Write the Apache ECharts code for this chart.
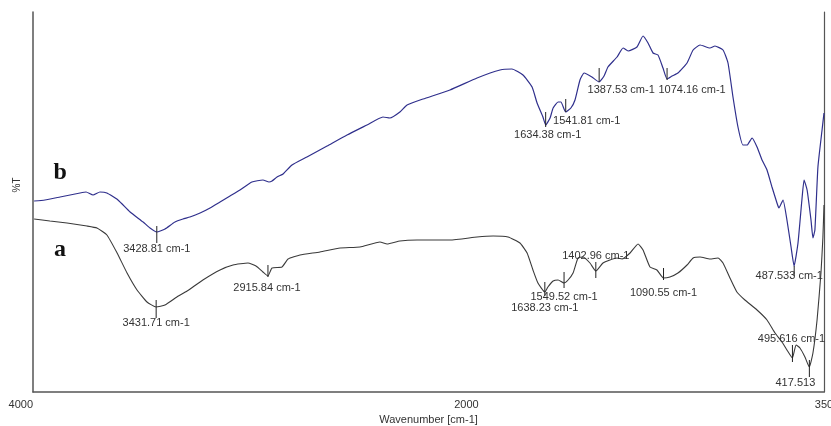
<!DOCTYPE html>
<html>
<head>
<meta charset="utf-8">
<script src="https://cdn.jsdelivr.net/npm/echarts@6/dist/echarts.min.js"></script>
<style>
html,body{margin:0;padding:0;background:#fff;}
#chart{width:831px;height:426px;}
</style>
</head>
<body>
<div id="chart"></div>
<script>
// Wavenumber axis ticks
const xTickLabels = [4000, 2000, 350];

// Spectrum b (blue) : wavenumber [cm-1] and transmittance (arbitrary units)
const waveB = [3995,3945,3875,3783,3755,3723,3691,3659,3608,3552,3492,3460,3429,3391,3345,3308,3276,3229,3183,3137,3091,3045,2990,2939,2911,2897,2874,2846,2805,2736,2643,2551,2459,2385,2353,2307,2274,2200,2076,1951,1845,1790,1739,1697,1674,1647,1634,1614,1600,1577,1564,1542,1518,1499,1476,1457,1421,1388,1365,1347,1305,1277,1254,1213,1185,1162,1139,1116,1093,1074,1051,1024,982,954,922,876,853,816,793,770,747,724,705,682,659,636,613,590,567,558,539,521,502,488,470,452,442,428,410,401,392,378,359,350];
const transB = [191,192,195,199,200,197,200,199,192,180,170,164,160,163,170,173,175,179,184,190,196,202,210,212,210,211,215,218,227,235,246,257,267,275,274,280,287,293,302,314,322,323,317,305,289,275,267,274,284,290,290,280,284,292,312,319,315,310,316,325,335,344,341,345,356,349,339,337,324,313,316,319,329,342,347,344,346,342,329,295,265,247,247,254,245,232,222,205,189,184,192,172,145,126,149,192,212,202,172,154,162,225,262,279];

// Spectrum a (dark grey)
const waveA = [3995,3922,3843,3751,3705,3659,3612,3566,3520,3474,3432,3391,3336,3289,3216,3137,3077,3008,2971,2939,2916,2897,2851,2823,2768,2676,2583,2491,2399,2366,2307,2228,2076,1951,1877,1808,1753,1720,1693,1670,1638,1624,1600,1577,1550,1531,1508,1485,1462,1430,1403,1370,1338,1305,1282,1245,1208,1185,1153,1121,1091,1061,1024,982,954,922,876,839,816,784,752,715,659,613,576,544,521,496,479,461,438,418,401,382,364,355,350];
const transA = [173,171,169,166,164,157,139,119,102,90,85,87,95,101,112,122,127,129,126,120,116,124,125,133,137,140,144,145,150,148,151,152,152,155,156,155,149,139,122,109,100,105,111,112,109,112,119,134,135,129,121,129,132,134,133,139,148,142,125,122,114,115,119,127,134,135,133,134,129,114,100,92,82,72,59,50,42,34,47,44,35,25,39,72,119,155,187];

// Peak annotations
const peaksB = [3428.81, 1634.38, 1541.81, 1387.53, 1074.16, 487.533];
const peakValB = [160, 267, 280, 310, 313, 126];
const peakTextB = ['3428.81 cm-1','1634.38 cm-1','1541.81 cm-1','1387.53 cm-1','1074.16 cm-1','487.533 cm-1'];

const peaksA = [3431.71, 2915.84, 1638.23, 1549.52, 1402.96, 1090.55, 495.616, 417.513];
const peakValA = [85, 116, 100, 109, 121, 114, 34, 25];
const peakTextA = ['3431.71 cm-1','2915.84 cm-1','1638.23 cm-1','1549.52 cm-1','1402.96 cm-1','1090.55 cm-1','495.616 cm-1','417.513'];

// Curve tags
const tagNames = ['b', 'a'];
const tagWave = [3875, 3875];
const tagVal = [219, 142];

// ---- styling (pixel offsets for tick marks and labels) ----
const tickB = [[-6,11],[-13,2],[-13,0],[-14,0],[-11,1],[0,10]];
const labOffB = [[0,17],[2,10],[21,9],[22,8],[25,11],[-5,10]];
const tickA = [[-7,11],[-11,1],[-10,4],[-11,5],[-9,7],[-10,2],[-13,4],[-7,10]];
const labOffA = [[0,16],[-1,12],[0,16],[0,14],[0,-15],[0,15],[-1,-19],[-14,16]];

const labelFont = {fontFamily: 'Liberation Sans, Arial, sans-serif', fontSize: 11, color: '#333'};

function buildMarks(peaks, vals, texts, ticks, offs, tag, tagW, tagV) {
  const out = [];
  peaks.forEach((p, i) => {
    const t = ticks[i];
    out.push({
      coord: [p, vals[i]],
      symbol: 'rect',
      symbolSize: [1, t[1] - t[0]],
      symbolOffset: [0, (t[0] + t[1]) / 2],
      itemStyle: {color: '#222'},
      label: {show: false}
    });
    out.push({
      coord: [p, vals[i]],
      symbol: 'circle',
      symbolSize: 1,
      itemStyle: {color: 'rgba(0,0,0,0)'},
      label: Object.assign({show: true, position: 'inside', offset: offs[i], formatter: texts[i]}, labelFont)
    });
  });
  out.push({
    coord: [tagW, tagV],
    symbol: 'circle',
    symbolSize: 1,
    itemStyle: {color: 'rgba(0,0,0,0)'},
    label: {show: true, position: 'inside', formatter: tag, fontFamily: 'Liberation Serif, Times New Roman, serif', fontWeight: 'bold', fontSize: 24, color: '#111'}
  });
  return out;
}

const chart = echarts.init(document.getElementById('chart'), null, {renderer: 'canvas'});
chart.setOption({
  animation: false,
  backgroundColor: '#fff',
  grid: {left: 33, right: 7, top: 12, bottom: 34, containLabel: false, outerBoundsMode: 'none'},
  xAxis: {
    type: 'value',
    min: 350,
    max: 4000,
    inverse: true,
    name: 'Wavenumber [cm-1]',
    nameLocation: 'middle',
    nameGap: 14,
    nameTextStyle: {fontFamily: 'Liberation Sans Narrow, Arial Narrow, Liberation Sans, sans-serif', fontSize: 11, color: '#333'},
    axisLine: {show: true, lineStyle: {color: '#555', width: 1.5}},
    axisTick: {show: false},
    splitLine: {show: false},
    axisLabel: {
      customValues: xTickLabels,
      formatter: v => String(v),
      margin: 7,
      fontFamily: 'Liberation Sans Narrow, Arial Narrow, Liberation Sans, sans-serif',
      fontSize: 11,
      color: '#333',
      alignMinLabel: 'right',
      alignMaxLabel: 'center'
    }
  },
  yAxis: [{
    type: 'value',
    min: 0,
    max: 380,
    name: '%T',
    nameLocation: 'middle',
    nameGap: 11,
    nameTextStyle: {fontFamily: 'Liberation Sans, Arial, sans-serif', fontSize: 10, color: '#333', padding: [0, 0, 0, 34]},
    axisLine: {show: true, lineStyle: {color: '#555', width: 1.5}},
    axisTick: {show: false},
    axisLabel: {show: false},
    splitLine: {show: false}
  }, {
    type: 'value',
    min: 0,
    max: 380,
    position: 'right',
    axisLine: {show: true, onZero: false, lineStyle: {color: '#555', width: 1.2}},
    axisTick: {show: false},
    axisLabel: {show: false},
    splitLine: {show: false}
  }],
  series: [{
    name: 'b',
    type: 'line',
    data: waveB.map((w, i) => [w, transB[i]]),
    showSymbol: false,
    symbol: 'none',
    smooth: 0.15,
    lineStyle: {color: '#2f2f8c', width: 1.2},
    z: 3,
    markPoint: {
      silent: true,
      animation: false,
      data: buildMarks(peaksB, peakValB, peakTextB, tickB, labOffB, tagNames[0], tagWave[0], tagVal[0])
    }
  }, {
    name: 'a',
    type: 'line',
    data: waveA.map((w, i) => [w, transA[i]]),
    showSymbol: false,
    symbol: 'none',
    smooth: 0.15,
    lineStyle: {color: '#3a3a3a', width: 1.1},
    z: 3,
    markPoint: {
      silent: true,
      animation: false,
      data: buildMarks(peaksA, peakValA, peakTextA, tickA, labOffA, tagNames[1], tagWave[1], tagVal[1])
    }
  }]
});
</script>
</body>
</html>
